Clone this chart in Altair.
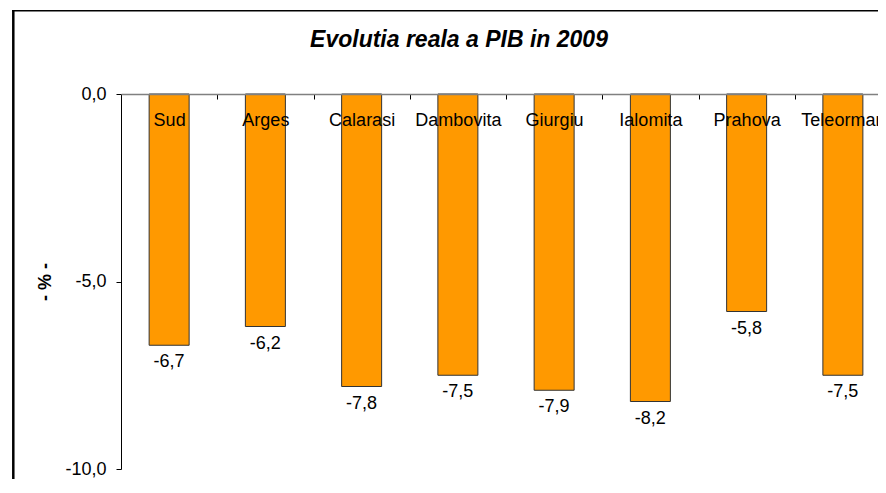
import altair as alt
import pandas as pd

judete = ["Sud", "Arges", "Calarasi", "Dambovita", "Giurgiu", "Ialomita", "Prahova", "Teleorman"]
valori = [-6.7, -6.2, -7.8, -7.5, -7.9, -8.2, -5.8, -7.5]
y_ticks = [0, -5, -10]
titlu = "Evolutia reala a PIB in 2009"

df = pd.DataFrame({"judet": judete, "val": valori})

FONT = "Liberation Sans"
VIEW_W = 757
BAND_RANGE = 770
VIEW_H = 375

fmt = "(datum.{f} < 0 ? '-' : '') + replace(format(abs(datum.{f}), '.1f'), '.', ',')"

x_scale = alt.Scale(range=[0, BAND_RANGE], paddingInner=0, paddingOuter=0)
y_scale = alt.Scale(domain=[-10, 0], nice=False, zero=False)

x_enc = alt.X(
    "judet:N", sort=judete, scale=x_scale,
    axis=alt.Axis(
        orient="bottom", offset=-VIEW_H, title=None, labelAngle=0, zindex=1,
        tickBand="extent", tickSize=5, tickColor="#000000", grid=False,
        domainColor="#808080", domainWidth=1.5,
        labelFont=FONT, labelFontSize=18, labelColor="#000000",
        labelBaseline="alphabetic", labelPadding=26, labelOverlap=False,
        labelFlush=False,
    ),
)

y_enc = alt.Y(
    "val:Q", scale=y_scale,
    axis=alt.Axis(
        values=y_ticks, title="- % -", grid=False,
        labelExpr=fmt.format(f="value"),
        labelFont=FONT, labelFontSize=18, labelColor="#000000", labelPadding=10,
        tickSize=5, tickColor="#000000", domainColor="#000000", domainWidth=1,
        titleFont=FONT, titleFontSize=18, titleFontWeight="bold", titleColor="#000000",
        titleX=-76, titleY=VIEW_H / 2, titleBaseline="middle", titleAngle=270,
    ),
)

bars = alt.Chart(df).mark_bar(
    size=40, color="#FF9900", stroke="#333333", strokeWidth=1
).encode(x=x_enc, y=y_enc)

labels = alt.Chart(df).transform_calculate(
    lab=fmt.format(f="val")
).mark_text(
    font=FONT, fontSize=18, color="#000000", baseline="alphabetic", dy=22
).encode(
    x=alt.X("judet:N", sort=judete),
    y=alt.Y("val:Q"),
    text="lab:N",
)

one = pd.DataFrame({"t": [titlu]})
title_mark = alt.Chart(one).mark_text(
    font=FONT, fontSize=23, fontWeight="bold", fontStyle="italic",
    color="#000000", align="center", baseline="alphabetic"
).encode(x=alt.value(338), y=alt.value(-47), text="t:N")

left_border = alt.Chart(one).mark_rule(color="#000000", strokeWidth=2.5).encode(
    x=alt.value(-107.7), y=alt.value(-83.5), y2=alt.value(600)
)
top_border = alt.Chart(one).mark_rule(color="#000000", strokeWidth=1.5).encode(
    x=alt.value(-109), x2=alt.value(1000), y=alt.value(-83.2)
)

chart = alt.layer(bars, labels, title_mark, left_border, top_border).properties(
    width=VIEW_W, height=VIEW_H,
    autosize=alt.AutoSizeParams(type="none"),
    padding={"left": 113, "top": 86, "right": 0, "bottom": 10},
    view=alt.ViewBackground(stroke="transparent", strokeWidth=0),
).configure_view(stroke="transparent", strokeWidth=0).configure(background="#ffffff")

chart.save("out.html", embed_options={"renderer": "svg", "actions": False})
